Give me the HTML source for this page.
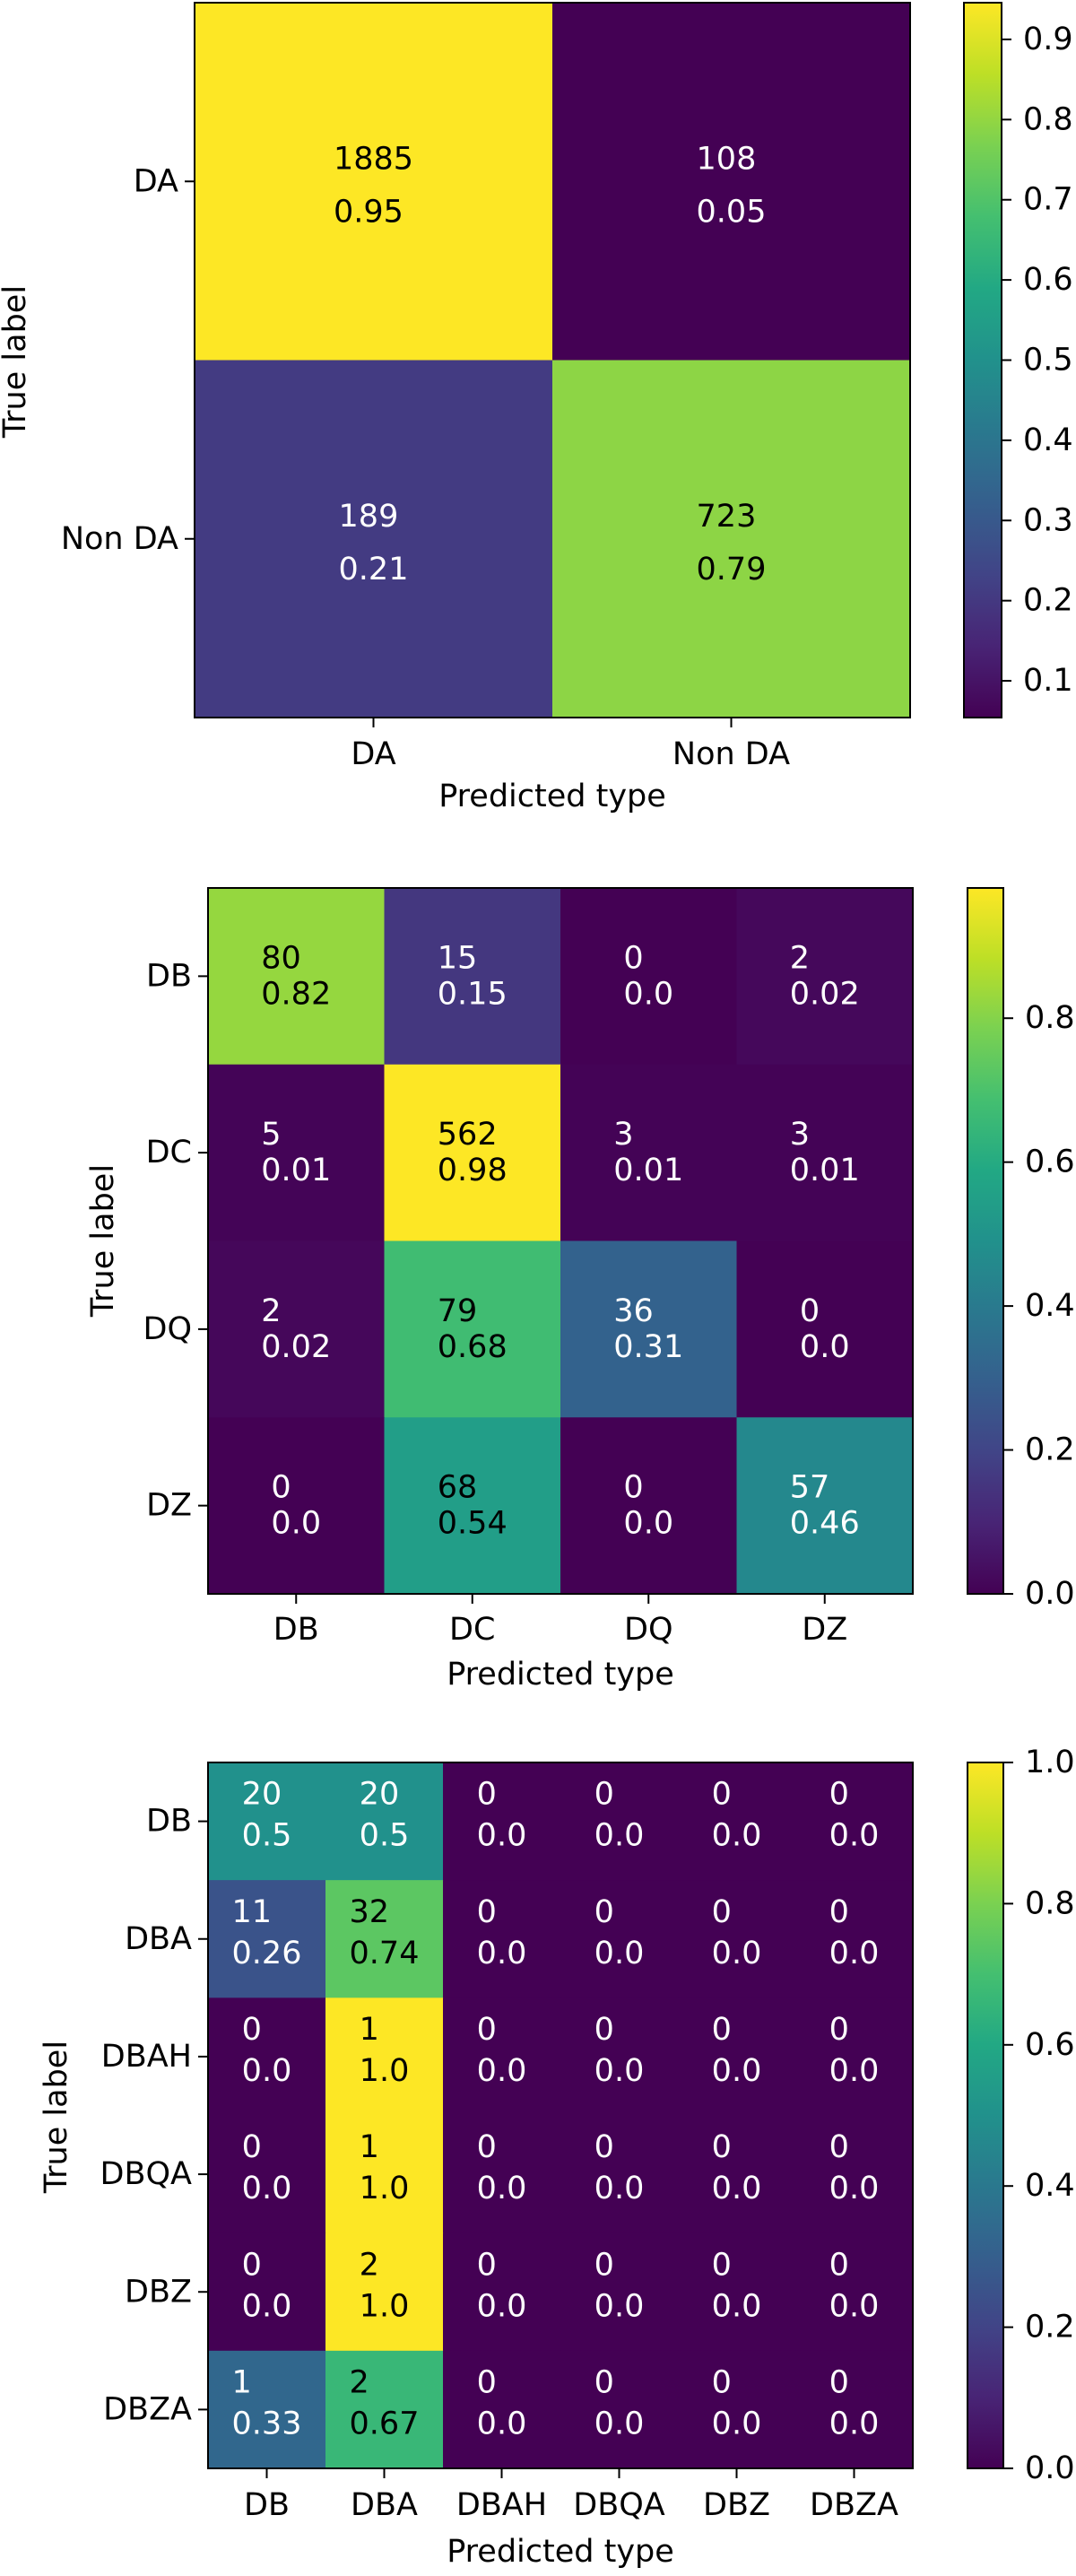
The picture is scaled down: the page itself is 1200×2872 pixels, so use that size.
<!DOCTYPE html>
<html><head><meta charset="utf-8"><style>
html,body{margin:0;padding:0;background:#fff}
svg text{font-family:"DejaVu Sans","Liberation Sans",sans-serif;font-size:35px}
</style></head><body>
<svg id="fig" xmlns="http://www.w3.org/2000/svg" width="1200" height="2867" viewBox="0 0 1200 2867"></svg>
<script>
// ---- Chart 1 data ----
const c1Labels = ["DA", "Non DA"];
const c1Counts = [[1885, 108], [189, 723]];
const c1Fracs = [[0.9458, 0.0542], [0.2072, 0.7928]];
const c1FracLabels = [["0.95", "0.05"], ["0.21", "0.79"]];
const c1Ticks = [0.1, 0.2, 0.3, 0.4, 0.5, 0.6, 0.7, 0.8, 0.9];
// ---- Chart 2 data ----
const c2Labels = ["DB", "DC", "DQ", "DZ"];
const c2Counts = [[80, 15, 0, 2], [5, 562, 3, 3], [2, 79, 36, 0], [0, 68, 0, 57]];
const c2Fracs = [[0.825, 0.155, 0, 0.021], [0.009, 0.981, 0.005, 0.005], [0.017, 0.675, 0.308, 0], [0, 0.544, 0, 0.456]];
const c2FracLabels = [["0.82", "0.15", "0.0", "0.02"], ["0.01", "0.98", "0.01", "0.01"], ["0.02", "0.68", "0.31", "0.0"], ["0.0", "0.54", "0.0", "0.46"]];
const c2Ticks = [0.0, 0.2, 0.4, 0.6, 0.8];
// ---- Chart 3 data ----
const c3Labels = ["DB", "DBA", "DBAH", "DBQA", "DBZ", "DBZA"];
const c3Counts = [[20,20,0,0,0,0],[11,32,0,0,0,0],[0,1,0,0,0,0],[0,1,0,0,0,0],[0,2,0,0,0,0],[1,2,0,0,0,0]];
const c3Fracs = [[0.5,0.5,0,0,0,0],[0.256,0.744,0,0,0,0],[0,1,0,0,0,0],[0,1,0,0,0,0],[0,1,0,0,0,0],[0.333,0.667,0,0,0,0]];
const c3FracLabels = [["0.5","0.5","0.0","0.0","0.0","0.0"],["0.26","0.74","0.0","0.0","0.0","0.0"],["0.0","1.0","0.0","0.0","0.0","0.0"],["0.0","1.0","0.0","0.0","0.0","0.0"],["0.0","1.0","0.0","0.0","0.0","0.0"],["0.33","0.67","0.0","0.0","0.0","0.0"]];
const c3Ticks = [0.0, 0.2, 0.4, 0.6, 0.8, 1.0];

const NS = "http://www.w3.org/2000/svg";
const svg = document.getElementById("fig");
const VIR = ["#440154","#482475","#414487","#355f8d","#2a788e","#21918c","#22a884","#44bf70","#7ad151","#bddf26","#fde725"];
function hex(h){return [parseInt(h.substr(1,2),16),parseInt(h.substr(3,2),16),parseInt(h.substr(5,2),16)];}
function viridis(t){
  t=Math.max(0,Math.min(1,t));
  const p=t*10, i=Math.min(9,Math.floor(p)), f=p-i;
  const a=hex(VIR[i]), b=hex(VIR[i+1]);
  return "rgb("+a.map((v,k)=>Math.round(v+(b[k]-v)*f)).join(",")+")";
}
function el(tag, attrs, parent){
  const e=document.createElementNS(NS,tag);
  for(const k in attrs) e.setAttribute(k,attrs[k]);
  (parent||svg).appendChild(e); return e;
}
function txtW(s){let w=0;for(const ch of s){w+=(ch==='.')?0.318:0.636;}return w*35;}
let gid=0;
function chart(cfg){
  const {labels,counts,fracs,fracLabels,ticks,x0,x1,y0,y1,vmin,vmax,off1,off2,cbX0,cbX1,ylabX,ylabY,xtickY,xlabY,name}=cfg;
  const g=el("g",{});
  
  
  const n=labels.length, cw=(x1-x0)/n, ch=(y1-y0)/n;
  const xs=j=>x0+cw*(j+0.5), ys=i=>y0+ch*(i+0.5);
  const norm=v=>(v-vmin)/(vmax-vmin);
  const mid=(vmin+vmax)/2;
  for(let i=0;i<n;i++)for(let j=0;j<n;j++){
    const r=el("rect",{x:x0+cw*j,y:y0+ch*i,width:cw+0.5,height:ch+0.5,fill:viridis(norm(fracs[i][j]))},g);
    
    
  }
  for(let i=0;i<n;i++)for(let j=0;j<n;j++){
    const col=fracs[i][j]<=mid+1e-9?"#ffffff":"#000000";
    const a=String(counts[i][j]), b=fracLabels[i][j];
    const w=Math.max(txtW(a),txtW(b));
    const lx=xs(j)-w/2;
    const t1=el("text",{x:lx,y:ys(i)+off1,fill:col,"dominant-baseline":"central"},g);
    t1.textContent=a;
    
    
    const t2=el("text",{x:lx,y:ys(i)+off2,fill:col,"dominant-baseline":"central"},g);
    t2.textContent=b;
    
    
  }
  const fr=el("rect",{x:x0,y:y0,width:x1-x0,height:y1-y0,fill:"none",stroke:"#000","stroke-width":2},g);
  
  
  for(let i=0;i<n;i++){
    el("line",{x1:x0-11,x2:x0,y1:ys(i),y2:ys(i),stroke:"#000","stroke-width":2},g);
    const t=el("text",{x:x0-18,y:ys(i),"text-anchor":"end","dominant-baseline":"central"},g);
    t.textContent=labels[i];
    
    
    el("line",{x1:xs(i),x2:xs(i),y1:y1,y2:y1+11,stroke:"#000","stroke-width":2},g);
    const u=el("text",{x:xs(i),y:xtickY,"text-anchor":"middle","dominant-baseline":"central"},g);
    u.textContent=labels[i];
    
    
  }
  const xl=el("text",{x:(x0+x1)/2,y:xlabY,"text-anchor":"middle","dominant-baseline":"central"},g);
  xl.textContent="Predicted type";
  
  
  const yl=el("text",{x:ylabX,y:ylabY,"text-anchor":"middle","dominant-baseline":"central",transform:"rotate(-90 "+ylabX+" "+ylabY+")"},g);
  yl.textContent="True label";
  
  
  // colorbar
  const id="vg"+(gid++);
  const defs=el("defs",{},g);
  const lg=el("linearGradient",{id:id,x1:0,y1:1,x2:0,y2:0},defs);
  for(let k=0;k<=20;k++){el("stop",{offset:k/20,"stop-color":viridis(k/20)},lg);}
  const cb=el("rect",{x:cbX0,y:y0,width:cbX1-cbX0,height:y1-y0,fill:"url(#"+id+")",stroke:"#000","stroke-width":2},g);
  
  
  const cy=v=>y1-(v-vmin)/(vmax-vmin)*(y1-y0);
  ticks.forEach(v=>{
    el("line",{x1:cbX1,x2:cbX1+11,y1:cy(v),y2:cy(v),stroke:"#000","stroke-width":2},g);
    const t=el("text",{x:cbX1+24,y:cy(v),"dominant-baseline":"central"},g);
    t.textContent=v.toFixed(1);
    
    
  });
}
chart({name:"binary-confusion-matrix",labels:c1Labels,counts:c1Counts,fracs:c1Fracs,fracLabels:c1FracLabels,ticks:c1Ticks,
  x0:217,x1:1015,y0:3,y1:800,vmin:0.0542,vmax:0.9458,off1:-25,off2:34,cbX0:1075,cbX1:1117,
  ylabX:17,ylabY:403,xtickY:841,xlabY:888});
chart({name:"type-confusion-matrix",labels:c2Labels,counts:c2Counts,fracs:c2Fracs,fracLabels:c2FracLabels,ticks:c2Ticks,
  x0:232,x1:1018,y0:990,y1:1777,vmin:0,vmax:0.981,off1:-20,off2:20,cbX0:1079,cbX1:1119,
  ylabX:115,ylabY:1383,xtickY:1817,xlabY:1867});
chart({name:"db-subtype-confusion-matrix",labels:c3Labels,counts:c3Counts,fracs:c3Fracs,fracLabels:c3FracLabels,ticks:c3Ticks,
  x0:232,x1:1018,y0:1965,y1:2752,vmin:0,vmax:1,off1:-30,off2:16,cbX0:1079,cbX1:1119,
  ylabX:63,ylabY:2360,xtickY:2793,xlabY:2845});
</script>
</body></html>
